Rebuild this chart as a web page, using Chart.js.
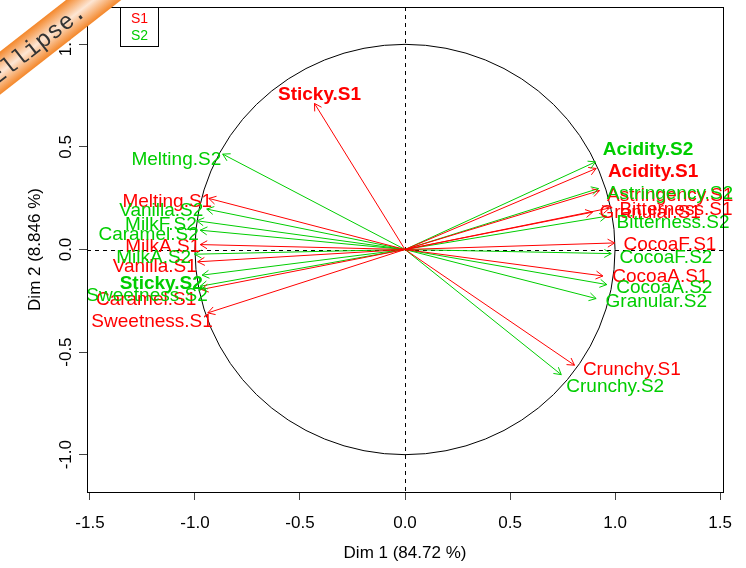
<!DOCTYPE html>
<html>
<head>
<meta charset="utf-8">
<script src="https://cdn.jsdelivr.net/npm/chart.js@4.4.0/dist/chart.umd.min.js"></script>
<style>html,body{margin:0;padding:0;background:#fff}</style>
</head>
<body>
<canvas id="varMap" width="746" height="568"></canvas>
<script>
// Variables factor map, session 1 (S1) and session 2 (S2)
var varsS1 = ['Acidity', 'Astringency', 'Bitterness', 'CocoaA', 'CocoaF', 'Crunchy', 'Granular',
              'Melting', 'MilkA', 'Sticky', 'Sweetness', 'Vanilla', 'Caramel'];
var dim1S1 = [0.910, 0.926, 0.974, 0.942, 0.998, 0.807, 0.893, -0.934, -0.975, -0.431, -0.939, -0.987, -0.970];
var dim2S1 = [0.395, 0.287, 0.202, -0.129, 0.032, -0.564, 0.182, 0.249, 0.024, 0.712, -0.309, -0.060, -0.195];

var varsS2 = ['Acidity', 'Astringency', 'Bitterness', 'CocoaA', 'CocoaF', 'Crunchy', 'Granular',
              'Melting', 'MilkA', 'MilkF', 'Sticky', 'Sweetness', 'Vanilla', 'Caramel'];
var dim1S2 = [0.907, 0.921, 0.960, 0.961, 0.982, 0.744, 0.910, -0.868, -1.002, -0.991, -0.966, -0.975, -0.944, -0.975];
var dim2S2 = [0.427, 0.297, 0.162, -0.171, -0.020, -0.610, -0.239, 0.465, -0.023, 0.140, -0.125, -0.179, 0.197, 0.094];

var boldVars = ['Acidity', 'Sticky'];
var xTicks = [-1.5, -1.0, -0.5, 0.0, 0.5, 1.0, 1.5];
var yTicks = [-1.0, -0.5, 0.0, 0.5, 1.0];
var xTitle = 'Dim 1 (84.72 %)';
var yTitle = 'Dim 2 (8.846 %)';

// label anchors (data units), as placed by the original layout
var lblS1 = [[0.966, 0.379], [0.962, 0.262], [1.021, 0.192], [0.987, -0.134], [1.040, 0.021], [0.847, -0.585],
             [0.926, 0.177], [-0.918, 0.232], [-0.975, 0.013], [-0.407, 0.753], [-0.915, -0.353], [-0.991, -0.085], [-0.994, -0.247]];
var lblS2 = [[0.942, 0.484], [0.960, 0.273], [1.007, 0.128], [1.006, -0.185], [1.021, -0.039], [0.768, -0.670],
             [0.955, -0.256], [-0.875, 0.436], [-1.018, -0.039], [-0.991, 0.119], [-0.963, -0.166], [-0.939, -0.226], [-0.960, 0.187], [-0.982, 0.070]];

var RED = '#ff0000', GREEN = '#00cd00';
var FONT = '"Liberation Sans", Arial, Helvetica, sans-serif';

function arrowSets(names, xs, ys, color, sess) {
    return names.map(function (n, i) {
        return {
            label: n + '.' + sess,
            data: [{x: 0, y: 0}, {x: xs[i], y: ys[i]}],
            showLine: true,
            borderColor: color,
            borderWidth: 1,
            pointRadius: 0,
            fill: false
        };
    });
}

var datasets = arrowSets(varsS1, dim1S1, dim2S1, RED, 'S1')
    .concat(arrowSets(varsS2, dim1S2, dim2S2, GREEN, 'S2'));

function drawHeads(ctx, x, y, xs, ys, color) {
    var ox = x.getPixelForValue(0), oy = y.getPixelForValue(0);
    ctx.strokeStyle = color;
    ctx.lineWidth = 1;
    for (var i = 0; i < xs.length; i++) {
        var px = x.getPixelForValue(xs[i]), py = y.getPixelForValue(ys[i]);
        var th = Math.atan2(py - oy, px - ox), len = 8, ang = Math.PI / 6;
        ctx.beginPath();
        ctx.moveTo(px - len * Math.cos(th - ang), py - len * Math.sin(th - ang));
        ctx.lineTo(px, py);
        ctx.lineTo(px - len * Math.cos(th + ang), py - len * Math.sin(th + ang));
        ctx.stroke();
    }
}

function drawLabels(ctx, x, y, names, sess, lbl, color) {
    ctx.fillStyle = color;
    ctx.textBaseline = 'middle';
    names.forEach(function (n, i) {
        var bold = boldVars.indexOf(n) >= 0;
        ctx.font = (bold ? 'bold ' : '') + '19px ' + FONT;
        var lx = lbl[i][0], ly = lbl[i][1];
        ctx.textAlign = (n === 'Sticky' && sess === 'S1') ? 'center' : (lx > 0 ? 'left' : 'right');
        ctx.fillText(n + '.' + sess, x.getPixelForValue(lx), y.getPixelForValue(ly));
    });
}

var extras = {
    id: 'extras',
    beforeDatasetsDraw: function (chart) {
        var ctx = chart.ctx, a = chart.chartArea, x = chart.scales.x, y = chart.scales.y;
        var x0 = Math.round(x.getPixelForValue(0)) + 0.5, y0 = Math.round(y.getPixelForValue(0)) + 0.5;
        ctx.save();
        ctx.strokeStyle = '#000';
        ctx.lineWidth = 1;
        ctx.setLineDash([4, 4]);
        ctx.beginPath();
        ctx.moveTo(a.left, y0); ctx.lineTo(a.right, y0);
        ctx.moveTo(x0, a.top); ctx.lineTo(x0, a.bottom);
        ctx.stroke();
        ctx.setLineDash([]);
        // correlation circle of radius 1
        var rx = x.getPixelForValue(1) - x.getPixelForValue(0);
        var ry = y.getPixelForValue(0) - y.getPixelForValue(1);
        ctx.beginPath();
        ctx.ellipse(x.getPixelForValue(0), y.getPixelForValue(0), rx, ry, 0, 0, 2 * Math.PI);
        ctx.stroke();
        ctx.restore();
    },
    afterDatasetsDraw: function (chart) {
        var ctx = chart.ctx, x = chart.scales.x, y = chart.scales.y;
        ctx.save();
        drawHeads(ctx, x, y, dim1S1, dim2S1, RED);
        drawHeads(ctx, x, y, dim1S2, dim2S2, GREEN);
        drawLabels(ctx, x, y, varsS1, 'S1', lblS1, RED);
        drawLabels(ctx, x, y, varsS2, 'S2', lblS2, GREEN);
        ctx.restore();
    },
    afterDraw: function (chart) {
        var ctx = chart.ctx, a = chart.chartArea, y = chart.scales.y;
        ctx.save();
        // plot box
        ctx.strokeStyle = '#000';
        ctx.lineWidth = 1;
        ctx.strokeRect(Math.round(a.left) + 0.5, Math.round(a.top) + 0.5,
                       Math.round(a.right - a.left), Math.round(a.bottom - a.top));
        // y tick labels, parallel to the axis
        ctx.fillStyle = '#000';
        ctx.font = '17px ' + FONT;
        ctx.textAlign = 'center';
        ctx.textBaseline = 'middle';
        yTicks.forEach(function (v) {
            ctx.save();
            ctx.translate(66, y.getPixelForValue(v));
            ctx.rotate(-Math.PI / 2);
            ctx.fillText(v.toFixed(1), 0, 0);
            ctx.restore();
        });
        // axis titles
        ctx.fillText(xTitle, (a.left + a.right) / 2, 553);
        ctx.save();
        ctx.translate(35, (a.top + a.bottom) / 2);
        ctx.rotate(-Math.PI / 2);
        ctx.fillText(yTitle, 0, 0);
        ctx.restore();
        // legend
        ctx.strokeRect(120.5, 7.5, 38, 39);
        ctx.font = '14px ' + FONT;
        ctx.fillStyle = RED;
        ctx.fillText('S1', 139.5, 19);
        ctx.fillStyle = GREEN;
        ctx.fillText('S2', 139.5, 36);
        // corner ribbon
        ctx.save();
        ctx.translate(45, 38);
        ctx.rotate(-38 * Math.PI / 180);
        var g = ctx.createLinearGradient(0, -17, 0, 17);
        g.addColorStop(0, '#f4872a');
        g.addColorStop(0.5, '#fde6d4');
        g.addColorStop(1, '#f4872a');
        ctx.fillStyle = g;
        ctx.fillRect(-140, -17, 280, 34);
        ctx.fillStyle = '#333';
        ctx.font = '24px "Liberation Mono", "Courier New", monospace';
        ctx.textAlign = 'right';
        ctx.fillText('Ellipse.', 48, 1);
        ctx.restore();
        ctx.restore();
    }
};

var ctx = document.getElementById('varMap').getContext('2d');
var varMap = new Chart(ctx, {
    type: 'scatter',
    data: {datasets: datasets},
    options: {
        responsive: false,
        animation: false,
        layout: {padding: {top: 7, right: 23, left: 0, bottom: 0}},
        plugins: {legend: {display: false}, tooltip: {enabled: false}},
        scales: {
            x: {
                type: 'linear',
                min: -1.514, max: 1.514,
                afterBuildTicks: function (s) { s.ticks = xTicks.map(function (v) { return {value: v}; }); },
                afterFit: function (s) { s.height = 76; },
                border: {display: false},
                grid: {drawOnChartArea: false, drawTicks: true, tickLength: 8, color: '#444'},
                ticks: {
                    autoSkip: false, maxRotation: 0, padding: 13, color: '#000',
                    font: {size: 17, family: FONT},
                    callback: function (v) { return Number(v).toFixed(1); }
                }
            },
            y: {
                type: 'linear',
                min: -1.182, max: 1.182,
                afterBuildTicks: function (s) { s.ticks = yTicks.map(function (v) { return {value: v}; }); },
                afterFit: function (s) { s.width = 87; },
                border: {display: false},
                grid: {drawOnChartArea: false, drawTicks: true, tickLength: 8, color: '#444'},
                ticks: {display: false}
            }
        }
    },
    plugins: [extras]
});
</script>
</body>
</html>
